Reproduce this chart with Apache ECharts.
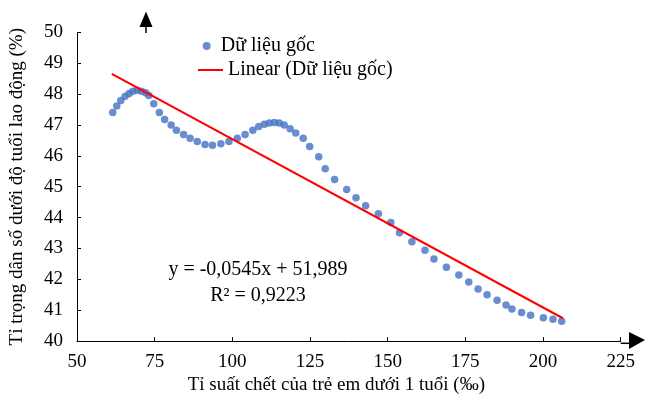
<!DOCTYPE html>
<html>
<head>
<meta charset="utf-8">
<script src="https://cdn.jsdelivr.net/npm/echarts@6/dist/echarts.min.js"></script>
<style>
  html, body { margin: 0; padding: 0; background: #fff; }
  #chart { width: 645px; height: 400px; }
</style>
</head>
<body>
<div id="chart"></div>
<script>
// tỉ suất chết của trẻ em dưới 1 tuổi (‰)
var mortality = [
  61.5, 62.8, 64.1, 65.5, 66.8, 68.0, 69.4, 70.8, 72.1, 73.1,
  74.7, 76.5, 78.2, 80.3, 82.0, 84.3, 86.4, 88.7, 91.2, 93.6,
  96.3, 98.9, 101.6, 104.1, 106.6, 108.5, 110.3, 111.9, 113.5, 115.1,
  116.7, 118.6, 120.4, 122.8, 124.9, 127.8, 129.9, 132.9, 136.8, 139.8,
  142.9, 147.0, 151.0, 153.8, 157.8, 162.0, 164.9, 168.9, 172.9, 176.1,
  179.1, 182.0, 185.2, 188.1, 190.0, 193.1, 196.0, 200.1, 203.2, 206.0
]
// tỉ trọng dân số dưới độ tuổi lao động (%)
var youngShare = [
  47.40, 47.61, 47.79, 47.93, 48.02, 48.09, 48.12, 48.09, 48.04, 47.95,
  47.69, 47.40, 47.18, 47.00, 46.83, 46.69, 46.57, 46.46, 46.37, 46.34,
  46.39, 46.46, 46.57, 46.69, 46.83, 46.95, 47.02, 47.06, 47.08, 47.06,
  47.00, 46.88, 46.74, 46.57, 46.30, 45.97, 45.58, 45.23, 44.91, 44.64,
  44.38, 44.12, 43.84, 43.51, 43.22, 42.94, 42.66, 42.39, 42.14, 41.91,
  41.69, 41.50, 41.32, 41.17, 41.04, 40.93, 40.84, 40.76, 40.71, 40.64
]
// đường xu hướng (đầu - cuối)
var trendX = [61.2, 206.4]
var trendY = [48.65, 40.74]

var xTicks = [50, 75, 100, 125, 150, 175, 200, 225]
var yTicks = [40, 41, 42, 43, 44, 45, 46, 47, 48, 49, 50]

var eqText = 'y = -0,0545x + 51,989'
var r2Text = 'R² = 0,9223'

var font = '"Liberation Serif", "Times New Roman", serif'
var dom = document.getElementById('chart')
var chart = echarts.init(dom, null, { renderer: 'canvas' })

var option = {
  animation: false,
  textStyle: { fontFamily: font },
  grid: {
    left: 70.7,
    right: 24.3,
    top: 32.3,
    bottom: 56.7,
    containLabel: false
  },
  legend: [{
    data: ['Dữ liệu gốc'],
    left: 197.7,
    top: 31,
    itemWidth: 18,
    itemHeight: 8,
    textStyle: { fontFamily: font, fontSize: 20, color: '#000' }
  }, {
    data: [{ name: 'Linear (Dữ liệu gốc)', icon: 'rect' }],
    left: 193,
    top: 55,
    itemWidth: 25,
    itemHeight: 2,
    textStyle: { fontFamily: font, fontSize: 20, color: '#000' }
  }],
  xAxis: {
    type: 'value',
    min: xTicks[0],
    max: xTicks[xTicks.length - 1],
    interval: 25,
    name: 'Tỉ suất chết của trẻ em dưới 1 tuổi (‰)',
    nameLocation: 'middle',
    nameGap: 32,
    nameTextStyle: {
      fontFamily: font, fontSize: 19, color: '#000',
      padding: [0, 25, 0, 0]
    },
    axisLine: { show: true, lineStyle: { color: '#000', width: 1 } },
    axisTick: { show: true, inside: true, length: 4, lineStyle: { color: '#000' } },
    axisLabel: { fontFamily: font, fontSize: 19, color: '#000', margin: 11 },
    splitLine: { show: false }
  },
  yAxis: {
    type: 'value',
    min: yTicks[0],
    max: yTicks[yTicks.length - 1],
    interval: 1,
    name: 'Tỉ trọng dân số dưới độ tuổi lao động (%)',
    nameLocation: 'middle',
    nameRotate: 90,
    nameGap: 50,
    nameTextStyle: { fontFamily: font, fontSize: 19, color: '#000' },
    axisLine: { show: true, lineStyle: { color: '#000', width: 1 } },
    axisTick: { show: true, inside: true, length: 4, lineStyle: { color: '#000' } },
    axisLabel: { fontFamily: font, fontSize: 19, color: '#000', margin: 14 },
    splitLine: { show: false }
  },
  series: [{
    name: 'Dữ liệu gốc',
    type: 'scatter',
    symbol: 'circle',
    symbolSize: 7.5,
    itemStyle: { color: '#4472C4' },
    data: mortality.map(function (x, i) { return [x, youngShare[i]] }),
    z: 3
  }, {
    name: 'Linear (Dữ liệu gốc)',
    type: 'line',
    symbol: 'none',
    lineStyle: { color: '#FF0000', width: 2 },
    itemStyle: { color: '#FF0000' },
    data: trendX.map(function (x, i) { return [x, trendY[i]] }),
    z: 4
  }],
  graphic: [
    // mũi tên trục tung
    { type: 'line', shape: { x1: 146, y1: 26, x2: 146, y2: 33 }, style: { stroke: '#000', lineWidth: 1.5 } },
    { type: 'polygon', shape: { points: [[146, 11.5], [139.5, 27], [152.5, 27]] }, style: { fill: '#000' } },
    // mũi tên trục hoành
    { type: 'line', shape: { x1: 620.7, y1: 343.3, x2: 630, y2: 343.3 }, style: { stroke: '#000', lineWidth: 1.5 } },
    { type: 'polygon', shape: { points: [[645, 340], [629, 332], [629, 349]] }, style: { fill: '#000' } },
    // phương trình hồi quy
    {
      type: 'text', x: 258, y: 260,
      style: { text: eqText, font: '20px ' + font, fill: '#000', align: 'center' }
    },
    {
      type: 'text', x: 258, y: 286,
      style: { text: r2Text, font: '20px ' + font, fill: '#000', align: 'center' }
    }
  ]
}

chart.setOption(option)
window.addEventListener('resize', function () { chart.resize() })
</script>
</body>
</html>
